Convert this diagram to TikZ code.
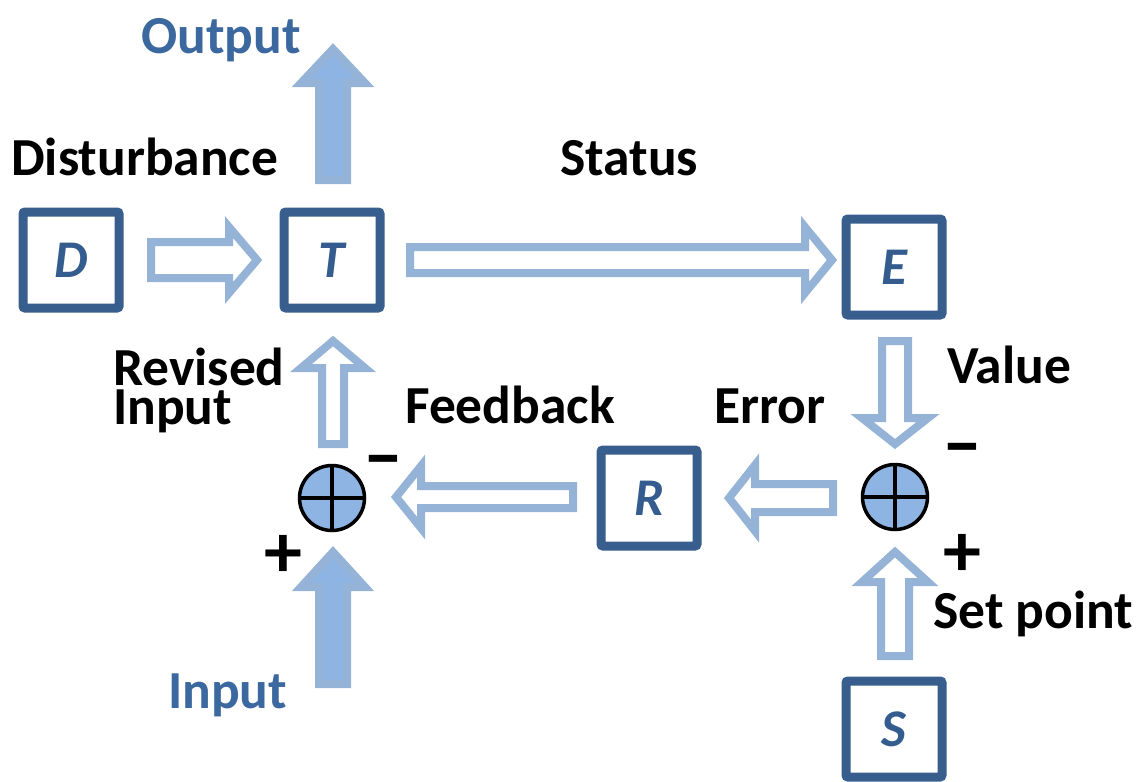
\documentclass[tikz,border=0pt]{standalone}
\usepackage{fontspec}
\setmainfont{Carlito}
\usetikzlibrary{calc}
\definecolor{boxblue}{RGB}{56,94,141}
\definecolor{letblue}{RGB}{52,92,142}
\definecolor{arrline}{RGB}{149,179,215}
\definecolor{arrfill}{RGB}{141,180,226}
\definecolor{txtblue}{RGB}{60,104,160}
\newcommand\blockarrow[6]{%
  \coordinate (ba-s) at (#2);
  \coordinate (ba-t) at (#3);
  \coordinate (ba-b) at ($(ba-t)!#6!(ba-s)$);
  \draw[#1] ($(ba-s)!#4!90:(ba-t)$) -- ($(ba-b)!#4!90:(ba-t)$) -- ($(ba-b)!#5!90:(ba-t)$) -- (ba-t)
    -- ($(ba-b)!#5!-90:(ba-t)$) -- ($(ba-b)!#4!-90:(ba-t)$) -- ($(ba-s)!#4!-90:(ba-t)$) -- cycle;
}
\begin{document}
\begin{tikzpicture}[x=1pt,y=-1pt,
  stepbox/.style={draw=boxblue,line width=9pt,rounded corners=2pt,minimum size=96pt,inner sep=0pt,outer sep=0pt,
    text=letblue,font=\fontsize{53}{60}\selectfont\bfseries\itshape},
  sumnode/.style={circle,draw=black,line width=3.5pt,fill=arrfill,minimum size=65pt,inner sep=0pt,outer sep=0pt},
  harrow/.style={draw=arrline,line width=8pt,fill=white,line join=miter},
  farrow/.style={draw=arrline,line width=8pt,fill=arrfill,line join=miter},
  lbl/.style={anchor=base west,inner sep=0pt,font=\fontsize{53.5}{39}\selectfont\bfseries},
  sgnplus/.style={inner sep=0pt,font=\fontsize{76}{80}\selectfont\bfseries},
  sgnminus/.style={inner sep=0pt,font=\fontsize{80}{84}\selectfont\bfseries}]
\useasboundingbox (0,0) rectangle (1141,782);
% blocks
\node[stepbox] (D) at (71,260) {D};
\node[stepbox] (T) at (332,260) {T};
\node[stepbox] (E) at (894,267) {E};
\node[stepbox] (R) at (649,498) {R};
\node[stepbox] (S) at (894,729) {S};
\node[sumnode] (SL) at (332,498) {};
\node[sumnode] (SR) at (895,497) {};
\draw[line width=3.5pt] (SL.north) -- (SL.south) (SL.west) -- (SL.east);
\draw[line width=3.5pt] (SR.north) -- (SR.south) (SR.west) -- (SR.east);
% hollow arrows
\blockarrow{harrow}{$(D)+(80,0)$}{$(T)+(-75,0)$}{18pt}{33pt}{28pt}
\blockarrow{harrow}{$(T)+(78,0)$}{$(E.west)+(-14,-7)$}{13pt}{33pt}{27pt}
\blockarrow{harrow}{$(SL)+(1,-54)$}{$(T)+(1,81)$}{11pt}{32pt}{27pt}
\blockarrow{harrow}{$(R)+(-76,-1)$}{$(SL)+(64,-1)$}{11pt}{31pt}{25pt}
\blockarrow{harrow}{$(SR)+(-62,1)$}{$(R)+(80,0)$}{14pt}{33pt}{26pt}
\blockarrow{harrow}{$(E)+(1,74)$}{$(SR)+(0,-53)$}{13pt}{33pt}{26pt}
\blockarrow{harrow}{$(S)+(1,-73)$}{$(SR)+(0,55)$}{14pt}{33pt}{30pt}
% filled arrows
\blockarrow{farrow}{$(T)+(1,-80)$}{$(T)+(1,-211)$}{14pt}{32pt}{34pt}
\blockarrow{farrow}{$(SL)+(1,186)$}{$(SL)+(1,54)$}{14pt}{32pt}{35pt}
% labels
\node[lbl,text=txtblue] (lout) at (141,53) {Output};
\node[lbl] (ldist) at (11,175) {Disturbance};
\node[lbl] (lstat) at (560,175) {Status};
\node[lbl,align=left] (lrev) at (113,424) {Revised\\Input};
\node[lbl] (lfb) at (405,423) {Feedback};
\node[lbl] (lerr) at (714,423) {Error};
\node[lbl] (lval) at (947,383) {Value};
\node[lbl] (lset) at (933,628) {Set point};
\node[lbl,text=txtblue] (lin) at (168,708) {Input};
% signs
\node[sgnminus] (m1) at (383,468) {–};
\node[sgnminus] (m2) at (962,456) {–};
\node[sgnplus] (p1) at (283,556) {+};
\node[sgnplus] (p2) at (962,555) {+};
\end{tikzpicture}
\end{document}
